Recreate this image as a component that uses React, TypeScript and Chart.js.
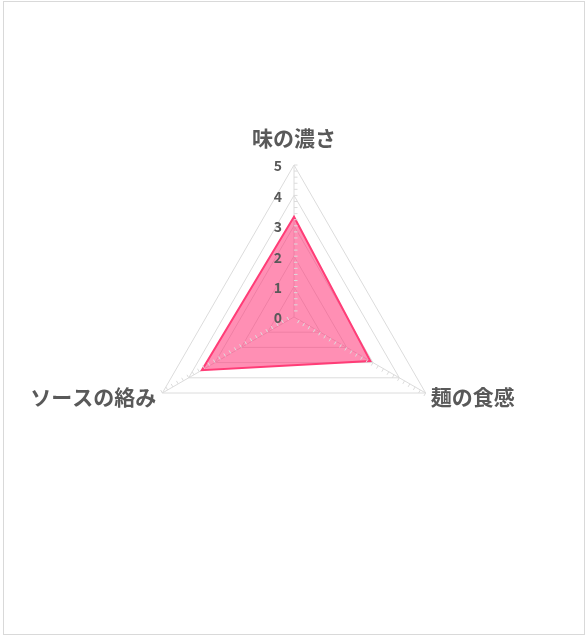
import { useEffect, useRef } from "react"
import { Chart, registerables } from "chart.js"
Chart.register(...registerables)

const LABELS = ["味の濃さ", "麺の食感", "ソースの絡み"]
const VALUES = [3.3, 2.9, 3.5]
const TICKS = [0, 1, 2, 3, 4, 5]
const MINOR_STEP = 0.2

const TEXT = "#595959"
const GRID = "#dcdcdc"
const FONT = '"Noto Sans CJK JP", "Noto Sans", sans-serif'

// tick labels left of the vertical spoke, minor ticks on each spoke, category labels
const excelRadar = {
  id: "excelRadar",
  afterDraw(chart: any) {
    const scale = chart.scales.r
    const ctx = chart.ctx
    const n = LABELS.length
    ctx.save()

    // minor ticks
    ctx.strokeStyle = GRID
    ctx.lineWidth = 1
    for (let i = 0; i < n; i++) {
      const end = scale.getPointPositionForValue(i, scale.max)
      const dx = end.x - scale.xCenter
      const dy = end.y - scale.yCenter
      const len = Math.hypot(dx, dy)
      const px = -dy / len
      const py = dx / len
      for (let v = MINOR_STEP; v <= scale.max + 1e-6; v += MINOR_STEP) {
        const p = scale.getPointPositionForValue(i, v)
        ctx.beginPath()
        ctx.moveTo(p.x, p.y)
        ctx.lineTo(p.x + px * 3.5, p.y + py * 3.5)
        ctx.stroke()
      }
    }

    // value labels
    ctx.fillStyle = TEXT
    ctx.font = `bold 14px ${FONT}`
    ctx.textAlign = "right"
    ctx.textBaseline = "middle"
    TICKS.forEach(t => {
      const p = scale.getPointPositionForValue(0, t)
      ctx.fillText(String(t), p.x - 12, p.y + 1)
    })

    // category labels
    ctx.font = `bold 21px ${FONT}`
    LABELS.forEach((label, i) => {
      const p = scale.getPointPositionForValue(i, scale.max)
      if (Math.abs(p.x - scale.xCenter) < 1) {
        ctx.textAlign = "center"
        ctx.fillText(label, p.x, p.y - 27)
      } else if (p.x < scale.xCenter) {
        ctx.textAlign = "right"
        ctx.fillText(label, p.x - 6, p.y + 4)
      } else {
        ctx.textAlign = "left"
        ctx.fillText(label, p.x + 5, p.y + 4)
      }
    })
    ctx.restore()
  },
}

function RadarChart() {
  const ref = useRef<HTMLCanvasElement>(null)
  useEffect(() => {
    if (!ref.current) return
    const chart = new Chart(ref.current, {
      type: "radar",
      data: {
        labels: LABELS,
        datasets: [{
          data: VALUES,
          backgroundColor: "rgba(255, 51, 119, 0.55)",
          borderColor: "#ff3d77",
          borderWidth: 2,
          pointRadius: 0,
          pointHoverRadius: 0,
        }],
      },
      options: {
        responsive: true,
        maintainAspectRatio: false,
        animation: false,
        layout: { padding: { left: 142, right: 141, top: 165, bottom: 171 } },
        plugins: { legend: { display: false }, tooltip: { enabled: false } },
        scales: {
          r: {
            z: 1,
            min: 0,
            max: 5,
            ticks: { display: false, stepSize: 1 },
            pointLabels: { display: false },
            grid: { color: GRID, lineWidth: 1 },
            angleLines: { color: GRID, lineWidth: 1 },
          },
        },
      },
      plugins: [excelRadar],
    })
    return () => chart.destroy()
  }, [])
  return <canvas ref={ref} />
}

export default function App() {
  return (
    <div style={{ position: "absolute", left: 0, top: 0, width: 587, height: 640, background: "#fff" }}>
      <div style={{
        position: "absolute", left: 3, top: 1, width: 582, height: 634,
        border: "1px solid #d9d9d9", boxSizing: "border-box",
      }} />
      <div style={{ position: "absolute", left: 0, top: 0, width: 587, height: 640 }}>
        <RadarChart />
      </div>
    </div>
  )
}
